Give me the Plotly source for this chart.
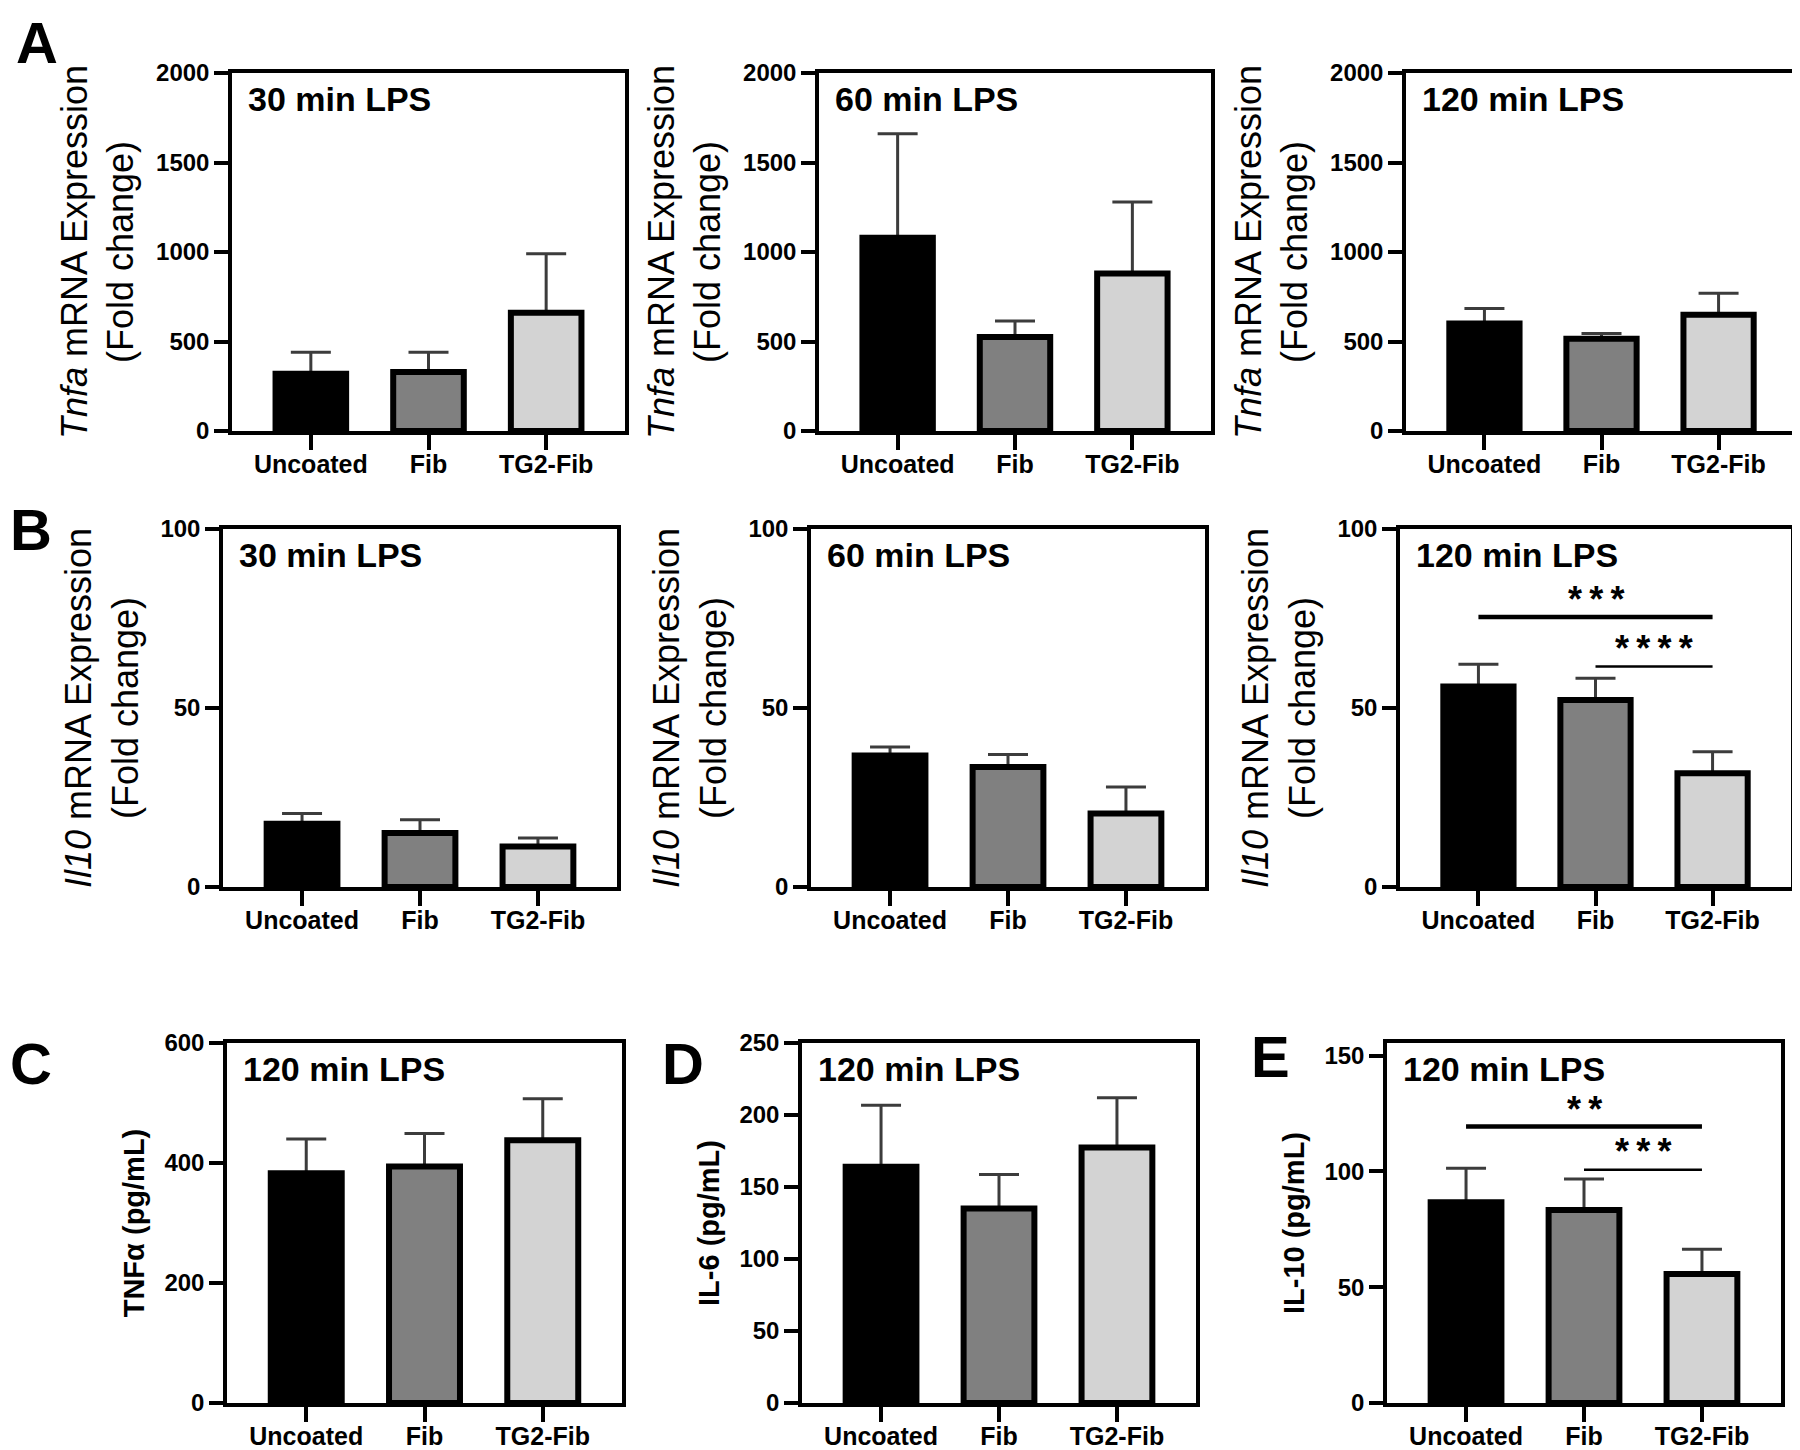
import plotly.graph_objects as go

categories = ["Uncoated", "Fib", "TG2-Fib"]

# Row A: Tnfa mRNA (fold change)
tnfa_30_mean = [320, 330, 660]
tnfa_30_upper = [440, 440, 990]
tnfa_60_mean = [1080, 525, 880]
tnfa_60_upper = [1660, 615, 1280]
tnfa_120_mean = [600, 515, 650]
tnfa_120_upper = [685, 545, 770]

# Row B: Il10 mRNA (fold change)
il10_30_mean = [17.7, 15.1, 11.3]
il10_30_upper = [20.5, 18.8, 13.7]
il10_60_mean = [36.7, 33.5, 20.5]
il10_60_upper = [39.1, 37.0, 27.9]
il10_120_mean = [56.0, 52.2, 31.8]
il10_120_upper = [62.2, 58.3, 37.8]

# Row C-E: secreted cytokines (pg/mL)
tnf_prot_mean = [383, 394, 438]
tnf_prot_upper = [440, 449, 507]
il6_prot_mean = [164, 135, 177.5]
il6_prot_upper = [206.7, 158.6, 212]
il10_prot_mean = [86.7, 83.4, 55.7]
il10_prot_upper = [101.4, 96.8, 66.4]

titles = ["30 min LPS", "60 min LPS", "120 min LPS", "30 min LPS", "60 min LPS", "120 min LPS",
          "120 min LPS", "120 min LPS", "120 min LPS"]

# page body has an 8px margin; positions below are window pixels
OFF = 8
W, H = 1800, 1450
FONT = "Liberation Sans, Arial, sans-serif"
fills = ["#000000", "#808080", "#d3d3d3"]


def fx(px):
    return max(px - OFF, 0) / W


def fy(py):
    return 1 - max(py - OFF, 0) / H


# panel boxes in window pixels: (left, right, top, bottom)
boxes = [
    (232, 625, 73, 431), (819, 1211, 73, 431), (1406, 1797, 73, 431),
    (223, 617, 529, 887), (811, 1205, 529, 887), (1400, 1791, 529, 887),
    (227, 622, 1043, 1403), (802, 1196, 1043, 1403), (1387, 1781, 1043, 1403),
]

panels = [
    (tnfa_30_mean, tnfa_30_upper, [0, 2000], 500),
    (tnfa_60_mean, tnfa_60_upper, [0, 2000], 500),
    (tnfa_120_mean, tnfa_120_upper, [0, 2000], 500),
    (il10_30_mean, il10_30_upper, [0, 100], 50),
    (il10_60_mean, il10_60_upper, [0, 100], 50),
    (il10_120_mean, il10_120_upper, [0, 100], 50),
    (tnf_prot_mean, tnf_prot_upper, [0, 600], 200),
    (il6_prot_mean, il6_prot_upper, [0, 250], 50),
    (il10_prot_mean, il10_prot_upper, [0, 155.5], 50),
]

ytitles = (["<i>Tnfa</i> mRNA Expression<br>(Fold change)"] * 3 +
           ["<i>Il10</i> mRNA Expression<br>(Fold change)"] * 3 +
           ["<b>TNFα (pg/mL)</b>", "<b>IL-6 (pg/mL)</b>", "<b>IL-10 (pg/mL)</b>"])

fig = go.Figure()
layout = {}
for i, ((mean, upper, yr, dt), (l, r, t, b)) in enumerate(zip(panels, boxes)):
    n = "" if i == 0 else str(i + 1)
    err = [u - m for u, m in zip(upper, mean)]
    # filled bars with upper error bars
    fig.add_trace(go.Bar(
        x=categories, y=mean, xaxis="x" + n, yaxis="y" + n,
        marker=dict(color=fills, line=dict(width=0)),
        width=0.6,
        error_y=dict(type="data", array=err, arrayminus=[0, 0, 0], symmetric=False,
                     color="#3c3c3c", thickness=3, width=20),
        showlegend=False, hoverinfo="skip",
    ))
    # black outlines drawn on top (hide the lower error cap)
    fig.add_trace(go.Bar(
        x=categories, y=mean, xaxis="x" + n, yaxis="y" + n,
        marker=dict(color="rgba(0,0,0,0)", line=dict(color="#000000", width=6)),
        width=0.6, showlegend=False, hoverinfo="skip",
    ))
    big = i < 6
    layout["xaxis" + n] = dict(
        domain=[fx(l), fx(r)], anchor="y" + n, range=[-0.67, 2.67], automargin=False,
        showline=True, linewidth=3.5, linecolor="black", mirror=True,
        ticks="outside", ticklen=15, tickwidth=3.5, tickcolor="black",
        ticklabelstandoff=-7,
        tickfont=dict(family=FONT, size=25, color="black", weight="bold"),
        showgrid=False, zeroline=False, fixedrange=True,
    )
    layout["yaxis" + n] = dict(
        domain=[fy(b), fy(t)], anchor="x" + n, range=yr, dtick=dt, automargin=False,
        showline=True, linewidth=3.5, linecolor="black", mirror=True,
        ticks="outside", ticklen=14, tickwidth=3.5, tickcolor="black",
        tickfont=dict(family=FONT, size=24, color="black", weight="bold"),
        showgrid=False, zeroline=False, fixedrange=True,
        title=dict(text=ytitles[i],
                   font=dict(family=FONT, size=36 if big else 29, color="black"),
                   standoff=12),
    )
    fig.add_annotation(
        text="<b>" + titles[i] + "</b>", xref="x" + n + " domain", yref="y" + n + " domain",
        x=0.035, y=0.985, xanchor="left", yanchor="top", showarrow=False,
        font=dict(family=FONT, size=34, color="black"),
    )

# significance brackets (B 120 min, E)
TS = "\u2009"
sig = [
    ("6", 0, 2, 75.4, 4.5, TS.join("***"), 81.6),
    ("6", 1, 2, 61.6, 2.5, TS.join("****"), 68.1),
    ("9", 0, 2, 119.4, 4.5, TS.join("**"), 128.8),
    ("9", 1, 2, 100.7, 2.5, TS.join("***"), 110.8),
]
for n, a, c, yline, lw, txt, ytxt in sig:
    fig.add_shape(type="line", xref="x" + n, yref="y" + n,
                  x0=a, x1=c, y0=yline, y1=yline,
                  line=dict(color="black", width=lw))
    fig.add_annotation(text="<b>" + txt + "</b>", xref="x" + n, yref="y" + n,
                       x=(a + c) / 2, y=ytxt, yanchor="middle", yshift=-5, showarrow=False,
                       font=dict(family=FONT, size=36, color="black"))

# panel letters (left edge / vertical anchor in window px)
letters = [("A", 14, 0, "top"), ("B", 0, 529, "middle"), ("C", 0, 1063, "middle"),
           ("D", 660, 1063, "middle"), ("E", 1249, 1056, "middle")]
for txt, px, py, ya in letters:
    fig.add_annotation(text="<b>" + txt + "</b>", xref="paper", yref="paper",
                       x=fx(px), y=fy(py), xanchor="left", yanchor=ya,
                       showarrow=False, font=dict(family=FONT, size=58, color="black"))

fig.update_layout(
    width=W, height=H, margin=dict(l=0, r=0, t=0, b=0, autoexpand=False),
    paper_bgcolor="white", plot_bgcolor="white", barmode="overlay",
    **layout,
)
fig.write_html("out.html")
